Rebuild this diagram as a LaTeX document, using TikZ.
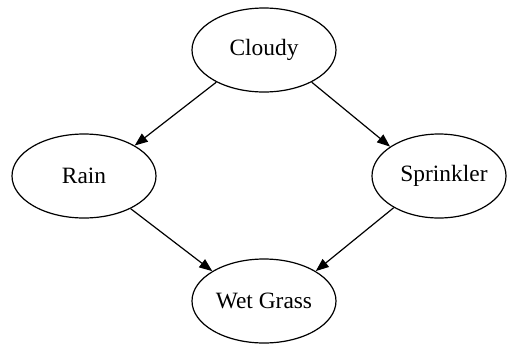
\documentclass[tikz,border=0pt]{standalone}
\usepackage{fontspec}
\setmainfont{Liberation Serif}
\usetikzlibrary{shapes.geometric,arrows.meta}
\begin{document}
\begin{tikzpicture}[x=1pt,y=-1pt,
  vartext/.style={font=\fontsize{23.4}{28}\selectfont},
  var/.style={ellipse,draw,line width=1.2pt,minimum width=144pt,minimum height=84pt,
    inner sep=0pt,vartext},
  dep/.style={line width=1.2pt,-{Triangle[length=13pt,width=10pt]}}]
  \useasboundingbox (0,0) rectangle (507,349);
  \node[var] (cloudy)    at (264,50)  {Cloudy};
  \node[var] (rain)      at (84,176)  {Rain};
  \node[var,minimum width=134pt,
    label={[vartext,inner sep=0pt,xshift=5pt]center:Sprinkler}] (sprinkler) at (439,176) {};
  \node[var] (wet)       at (264,301) {Wet Grass};
  \draw[dep] (cloudy.214)    -- (rain.31);
  \draw[dep] (cloudy.326)    -- (sprinkler.149);
  \draw[dep] (rain.325)      -- (wet.150);
  \draw[dep] (sprinkler.215) -- (wet.30);
\end{tikzpicture}
\end{document}
